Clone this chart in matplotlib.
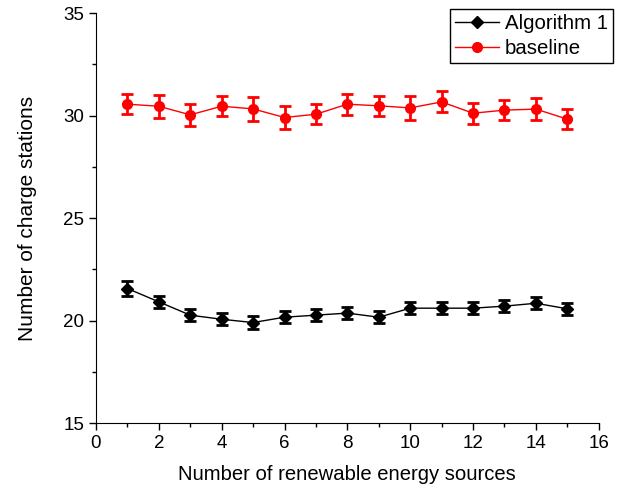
import matplotlib
matplotlib.use('Agg')
import matplotlib.pyplot as plt
from matplotlib.ticker import MultipleLocator

plt.rcParams['font.family'] = ['Liberation Sans', 'DejaVu Sans']

sources = list(range(1, 16))
alg1 = [21.57, 20.92, 20.27, 20.07, 19.91, 20.17, 20.27, 20.37, 20.17,
        20.61, 20.61, 20.61, 20.71, 20.85, 20.58]
alg1_err = [0.35, 0.3, 0.3, 0.3, 0.3, 0.3, 0.3, 0.3, 0.3,
            0.3, 0.3, 0.3, 0.3, 0.3, 0.3]
base = [30.56, 30.46, 30.04, 30.46, 30.33, 29.91, 30.07, 30.56, 30.48,
        30.38, 30.67, 30.12, 30.27, 30.32, 29.83]
base_err = [0.49, 0.55, 0.55, 0.5, 0.58, 0.54, 0.49, 0.52, 0.5,
            0.58, 0.51, 0.52, 0.5, 0.52, 0.49]

fig = plt.figure(figsize=(6.27, 4.87), dpi=100)
ax = fig.add_axes([0.153, 0.131, 0.802, 0.842])

ax.errorbar(sources, alg1, yerr=alg1_err, color='black', lw=1,
            marker='D', ms=6, elinewidth=2, capsize=4, capthick=2,
            label='Algorithm 1')
ax.errorbar(sources, base, yerr=base_err, color='red', lw=1,
            marker='o', ms=7, elinewidth=2, capsize=4, capthick=2,
            label='baseline')

ax.set_xlim(0, 16)
ax.set_ylim(15, 35)
ax.xaxis.set_major_locator(MultipleLocator(2))
ax.xaxis.set_minor_locator(MultipleLocator(1))
ax.yaxis.set_major_locator(MultipleLocator(5))
ax.yaxis.set_minor_locator(MultipleLocator(2.5))
ax.tick_params(which='major', direction='out', length=5, width=1, labelsize=13.5)
ax.tick_params(which='minor', direction='out', length=3, width=1)
ax.spines['top'].set_visible(False)
ax.spines['right'].set_visible(False)

ax.set_xlabel('Number of renewable energy sources', fontsize=14.6, labelpad=9)
ax.set_ylabel('Number of charge stations', fontsize=15, labelpad=19)

handles, labels = ax.get_legend_handles_labels()
handles = [h[0] for h in handles]
leg = ax.legend(handles, labels, loc='upper right', bbox_to_anchor=(1.028, 1.01),
                fontsize=14.7, fancybox=False, edgecolor='black', framealpha=1,
                handlelength=2.15, handletextpad=0.3, labelspacing=0.27,
                borderpad=0.25, borderaxespad=0.0)
leg.get_frame().set_linewidth(1)

fig.savefig('out.png', dpi=100)
